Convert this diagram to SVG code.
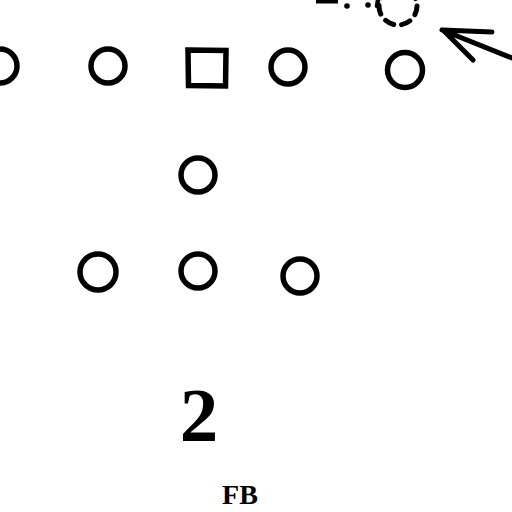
<svg xmlns="http://www.w3.org/2000/svg" width="512" height="512" viewBox="0 0 512 512">
<style>
.p{fill:none;stroke:#000;stroke-width:5.5}
.d{fill:none;stroke:#000;stroke-width:5;stroke-dasharray:9 8;stroke-linecap:round}
.t{font-family:"Liberation Serif","DejaVu Serif",serif;font-weight:bold;fill:#000;text-anchor:middle}
</style>
<rect width="512" height="512" fill="#fff"/>
<g id="p1"><circle class="p" cx="0" cy="66" r="17"/></g>
<g id="p2"><circle class="p" cx="108" cy="66" r="17"/></g>
<g id="center"><path class="p" d="M188 50 L226 50.5 L225.5 86 L188.5 85.5 Z"/></g>
<g id="p4"><circle class="p" cx="288" cy="67" r="17"/></g>
<g id="p5"><circle class="p" cx="405" cy="70" r="17.5"/></g>
<g id="qb"><circle class="p" cx="198" cy="175" r="17"/></g>
<g id="b1"><circle class="p" cx="98" cy="272" r="18"/></g>
<g id="b2"><circle class="p" cx="198" cy="271" r="17"/></g>
<g id="b3"><circle class="p" cx="300" cy="276" r="17"/></g>
<g id="defender"><circle class="d" cx="398" cy="6" r="19"/></g>
<g id="connectors">
<path d="M316 1 L338 1" stroke="#000" stroke-width="5" fill="none"/>
<circle cx="347" cy="6" r="2.8"/>
<circle cx="368" cy="5" r="2.8"/>
<path d="M378 0 L377 6" stroke="#000" stroke-width="4.5" stroke-linecap="round"/>
<path d="M512 58 L442 30 M442 30 L492 32 M444 31 L473 60" stroke="#000" stroke-width="5" fill="none" stroke-linecap="round"/>
</g>
<text class="t" x="199" y="441" font-size="77">2</text>
<text class="t" x="240" y="504" font-size="28">FB</text>
</svg>
